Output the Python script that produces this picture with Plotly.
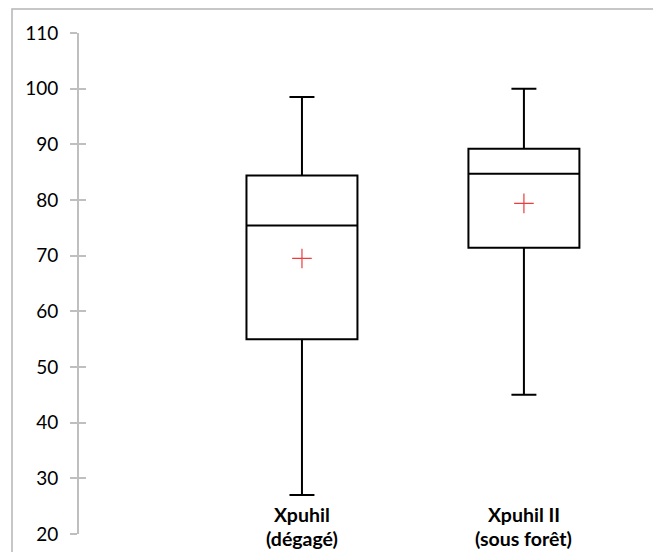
import plotly.graph_objects as go

categories = ["Xpuhil<br>(dégagé)", "Xpuhil II<br>(sous forêt)"]
cat_keys = ["A", "B"]
q1 = [55.0, 71.4]
median = [75.4, 84.7]
q3 = [84.4, 89.2]
lower = [27.0, 45.0]
upper = [98.5, 100.0]
mean = [69.5, 79.4]
y_ticks = [20, 30, 40, 50, 60, 70, 80, 90, 100, 110]

fig = go.Figure()
fig.add_trace(go.Box(
    x=cat_keys, q1=q1, median=median, q3=q3,
    lowerfence=lower, upperfence=upper,
    boxpoints=False, width=0.5, whiskerwidth=0.225,
    fillcolor="rgba(255,255,255,0)",
    line=dict(color="black", width=2),
    showlegend=False, hoverinfo="skip",
))
fig.add_trace(go.Scatter(
    x=cat_keys, y=mean, mode="markers", yaxis="y2",
    marker=dict(symbol="cross-thin", size=14, line=dict(color="#EE3B3B", width=1.2)),
    showlegend=False, hoverinfo="skip",
))

W, H = 653, 552
ml, mr, mt, mb = 79, 13, 33, 18
pw, ph = W - ml - mr, H - mt - mb
base = mt + ph  # pixel row of the value 20

line_pos = [(base - 514.0) / ph, (base - 538.0) / ph]
for k, lab in zip(cat_keys, categories):
    for part, yp in zip(lab.split("<br>"), line_pos):
        fig.add_annotation(x=k, xref="x", y=yp, yref="paper", text="<b>" + part + "</b>",
                           showarrow=False, yanchor="middle", borderpad=0,
                           font=dict(family="Lato", size=19.5, color="black"))

# outer chart border (top and left edges only, the rest is cropped)
x_left = (12 - ml) / pw
x_right = (W - ml) / pw
y_top = 1 + (mt - 9) / ph
y_bot = -mb / ph
fig.add_shape(type="path", xref="paper", yref="paper",
              path=f"M {x_left} {y_bot} L {x_left} {y_top} L {x_right} {y_top}",
              line=dict(color="#B5B5B5", width=1.5), layer="below")

yax = dict(range=[20, 110], tickvals=y_ticks, showgrid=False, zeroline=False)
fig.update_layout(
    width=W, height=H, autosize=False,
    margin=dict(l=ml, r=mr, t=mt, b=mb, autoexpand=False),
    paper_bgcolor="white", plot_bgcolor="white",
    font=dict(family="Lato", size=19, color="black"),
    xaxis=dict(range=[-1.0045, 1.523], showticklabels=False, showline=False,
               showgrid=False, zeroline=False, ticks=""),
    yaxis=dict(**yax, showline=True, linecolor="#BFBFBF", linewidth=2,
               ticks="outside", ticklen=7, tickwidth=1.5, tickcolor="#BFBFBF",
               ticklabelstandoff=8),
    yaxis2=dict(**yax, overlaying="y", side="left", anchor="x", showline=False,
                ticks="inside", ticklen=7, tickwidth=1.5, tickcolor="#BFBFBF",
                showticklabels=False),
)
fig.write_html("out.html", config={"displayModeBar": False},
               post_script="document.body.style.margin='0';document.body.style.overflow='hidden';")
